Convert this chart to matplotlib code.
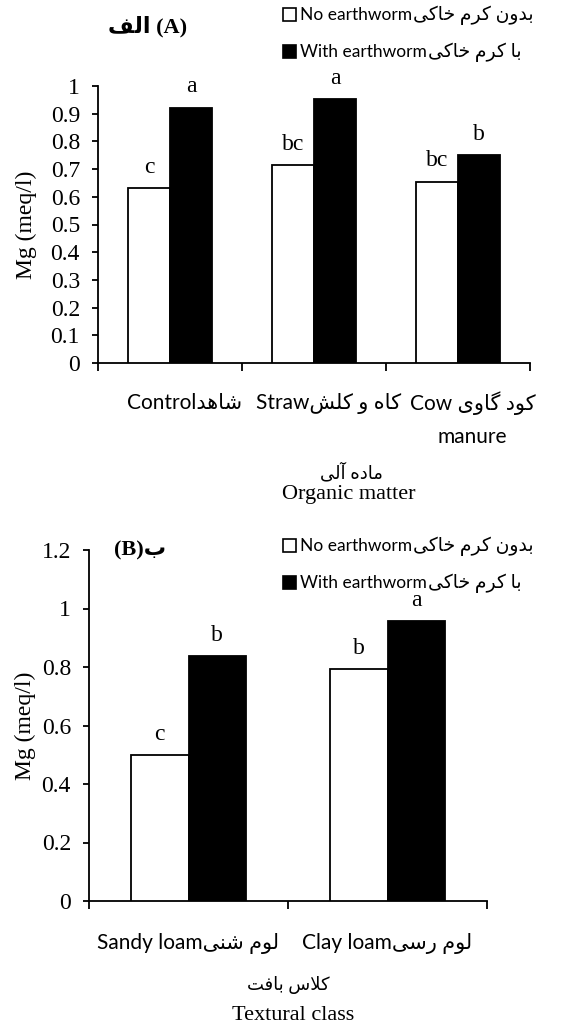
import matplotlib
matplotlib.use("Agg")
import matplotlib.pyplot as plt
from matplotlib.patches import Patch
from matplotlib.font_manager import FontProperties
import matplotlib.transforms as mtransforms

# ---------------- Persian shaping helper (visual order) ----------------
FORMS = {
    'ا': ('\uFE8D', '\uFE8E', None, None),
    'آ': ('\uFE81', '\uFE82', None, None),
    'ب': ('\uFE8F', '\uFE90', '\uFE91', '\uFE92'),
    'ت': ('\uFE95', '\uFE96', '\uFE97', '\uFE98'),
    'خ': ('\uFEA5', '\uFEA6', '\uFEA7', '\uFEA8'),
    'د': ('\uFEA9', '\uFEAA', None, None),
    'ر': ('\uFEAD', '\uFEAE', None, None),
    'س': ('\uFEB1', '\uFEB2', '\uFEB3', '\uFEB4'),
    'ش': ('\uFEB5', '\uFEB6', '\uFEB7', '\uFEB8'),
    'ف': ('\uFED1', '\uFED2', '\uFED3', '\uFED4'),
    'ک': ('\uFB8E', '\uFB8F', '\uFB90', '\uFB91'),
    'گ': ('\uFB92', '\uFB93', '\uFB94', '\uFB95'),
    'ل': ('\uFEDD', '\uFEDE', '\uFEDF', '\uFEE0'),
    'م': ('\uFEE1', '\uFEE2', '\uFEE3', '\uFEE4'),
    'ن': ('\uFEE5', '\uFEE6', '\uFEE7', '\uFEE8'),
    'ه': ('\uFEE9', '\uFEEA', '\uFEEB', '\uFEEC'),
    'و': ('\uFEED', '\uFEEE', None, None),
    'ی': ('\uFBFC', '\uFBFD', '\uFBFE', '\uFBFF'),
}


def fa(text):
    out = []
    n = len(text)
    i = 0
    while i < n:
        ch = text[i]
        if ch not in FORMS:
            out.append(ch)
            i += 1
            continue
        prev = text[i - 1] if i > 0 else None
        prev_joins = prev in FORMS and FORMS[prev][2] is not None
        if ch == 'ل' and i + 1 < n and text[i + 1] == 'ا':
            out.append('\uFEFC' if prev_joins else '\uFEFB')
            i += 2
            continue
        nxt = text[i + 1] if i + 1 < n else None
        next_joins = nxt in FORMS
        iso, fin, ini, med = FORMS[ch]
        dual = ini is not None
        if prev_joins and next_joins and dual:
            out.append(med)
        elif prev_joins:
            out.append(fin)
        elif next_joins and dual:
            out.append(ini)
        else:
            out.append(iso)
        i += 1
    return ''.join(reversed(out))


# ---------------- data ----------------
om_labels = ["Control" + fa("شاهد"),
             "Straw" + fa("کاه و کلش"),
             "Cow " + fa("کود گاوی") + "\nmanure"]
om_no_worm = [0.632, 0.715, 0.655]
om_with_worm = [0.922, 0.952, 0.750]
om_letters_no = ["c", "bc", "bc"]
om_letters_with = ["a", "a", "b"]

tex_labels = ["Sandy loam" + fa("لوم شنی"),
              "Clay loam" + fa("لوم رسی")]
tex_no_worm = [0.498, 0.792]
tex_with_worm = [0.838, 0.956]
tex_letters_no = ["c", "b"]
tex_letters_with = ["b", "a"]

legend_en = ["No earthworm", "With earthworm"]
legend_fa = [fa("بدون کرم خاکی"), fa("با کرم خاکی")]

yticks_a = [0, 0.1, 0.2, 0.3, 0.4, 0.5, 0.6, 0.7, 0.8, 0.9, 1]
yticks_b = [0, 0.2, 0.4, 0.6, 0.8, 1, 1.2]

# ---------------- style ----------------
SERIF = "Liberation Serif"
SANS = ["Lato", "DejaVu Sans"]
TICK_FS = 17
LETTER_FS = 17
XLAB_FS = 15
LEG_FS = 12.5
LEG_FA_FS = 13.5

fig = plt.figure(figsize=(5.63, 10.29), dpi=100)

ax_a = fig.add_axes([98 / 563, 1 - 363 / 1029, 432 / 563, 277 / 1029])
ax_b = fig.add_axes([89 / 563, 1 - 901 / 1029, 398 / 563, 351 / 1029])

W = 0.29
OFF = 0.145


def fmt(v):
    return "0" if v == 0 else ("1" if v == 1 else ("%g" % v))


def draw_panel(ax, labels, no_vals, with_vals, l_no, l_with, yticks, ymax,
               xlab_y, xlab_dy, xshift):
    n = len(labels)
    xs = list(range(n))
    b1 = ax.bar([x - OFF for x in xs], no_vals, width=W, color="white",
                edgecolor="black", linewidth=1.3, zorder=3)
    b2 = ax.bar([x + OFF for x in xs], with_vals, width=W, color="black",
                edgecolor="black", linewidth=1.3, zorder=3)
    for rect, lab in list(zip(b1, l_no)) + list(zip(b2, l_with)):
        ax.annotate(lab, (rect.get_x() + rect.get_width() / 2, rect.get_height()),
                    xytext=(0, 11), textcoords="offset points", ha="center",
                    va="baseline", fontsize=LETTER_FS, family=SERIF)
    ax.set_xlim(-0.5, n - 0.5)
    ax.set_ylim(0, ymax)
    ax.set_yticks(yticks)
    ax.set_yticklabels([fmt(v) for v in yticks], family=SERIF, fontsize=TICK_FS)
    ax.set_xticks([i - 0.5 for i in range(n + 1)])
    ax.set_xticklabels([])
    ax.tick_params(axis="x", direction="out", length=6, width=1.3)
    ax.tick_params(axis="y", direction="out", length=4, width=1.3, pad=9)
    for s in ("top", "right"):
        ax.spines[s].set_visible(False)
    for s in ("left", "bottom"):
        ax.spines[s].set_linewidth(1.3)
    trans = mtransforms.blended_transform_factory(ax.transData, ax.transAxes)
    for i, lab in enumerate(labels):
        for k, line in enumerate(lab.split("\n")):
            ax.text(i + xshift, xlab_y - k * xlab_dy, line, transform=trans,
                    ha="center", va="center", fontsize=XLAB_FS, family=SANS)
    ax.set_ylabel("Mg (meq/l)", family=SERIF, fontsize=TICK_FS)


draw_panel(ax_a, om_labels, om_no_worm, om_with_worm, om_letters_no,
           om_letters_with, yticks_a, 1.0, -0.145, 0.123, 0.1)
draw_panel(ax_b, tex_labels, tex_no_worm, tex_with_worm, tex_letters_no,
           tex_letters_with, yticks_b, 1.2, -0.12, 0.1, 0.0)

ax_a.yaxis.set_label_coords(-0.142, 0.5)
ax_b.yaxis.set_label_coords(-0.132, 0.5)

# axis titles (Persian + English)
fig.text(351 / 563, 1 - 472 / 1029, fa("ماده آلی"), ha="center", va="center",
         fontsize=13, family=SANS)
fig.text(349 / 563, 1 - 495 / 1029, "Organic matter", ha="center", va="center",
         fontsize=16, family=SERIF)
fig.text(288 / 563, 1 - 985 / 1029, fa("کلاس بافت"), ha="center", va="center",
         fontsize=13, family=SANS)
fig.text(293 / 563, 1 - 1015 / 1029, "Textural class", ha="center", va="center",
         fontsize=16, family=SERIF)

# panel titles
fig.text(148 / 563, 1 - 27 / 1029, fa("الف") + " (A)", ha="center", va="center",
         fontsize=16, fontweight="bold", family=[SERIF, "DejaVu Sans"])
fig.text(140 / 563, 1 - 550 / 1029, "(B)" + fa("ب"), ha="center", va="center",
         fontsize=16, fontweight="bold", family=[SERIF, "DejaVu Sans"])

# legends
handles = [Patch(facecolor="white", edgecolor="black", linewidth=1.2),
           Patch(facecolor="black", edgecolor="black", linewidth=1.2)]
leg_prop = FontProperties(family=SANS, size=LEG_FS)
legends = []
for ax, ytop in ((ax_a, 4), (ax_b, 535)):
    leg = ax.legend(handles, legend_en, loc="upper left",
                    bbox_to_anchor=(280 / 563, 1 - ytop / 1029),
                    bbox_transform=fig.transFigure, frameon=False, prop=leg_prop,
                    handlelength=0.75, handleheight=0.75, handletextpad=0.2,
                    labelspacing=1.2, borderpad=0.2, borderaxespad=0)
    legends.append(leg)

fig.canvas.draw()
renderer = fig.canvas.get_renderer()
inv = fig.transFigure.inverted()
for leg in legends:
    for t, txt in zip(leg.get_texts(), legend_fa):
        bb = t.get_window_extent(renderer)
        x, y = inv.transform((bb.x1 + 1, (bb.y0 + bb.y1) / 2))
        fig.text(x, y, txt, ha="left", va="center", fontsize=LEG_FA_FS,
                 family=SANS)

fig.savefig("out.png", dpi=100)
